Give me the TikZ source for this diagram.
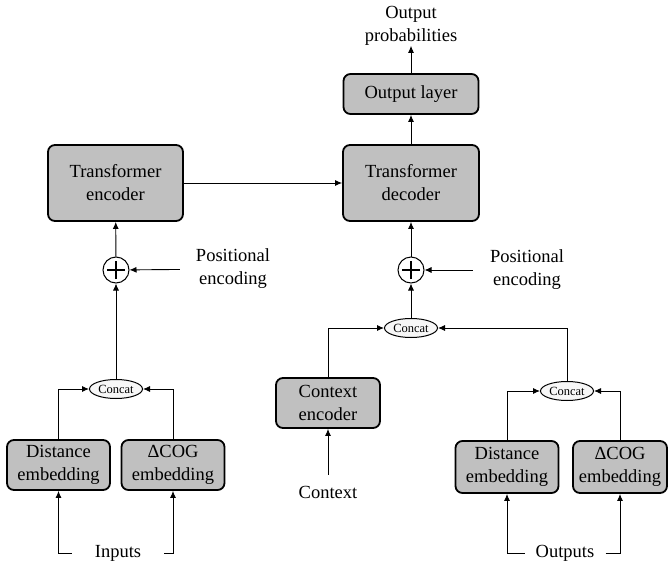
\documentclass[tikz,border=0pt]{standalone}
\usepackage{fontspec}
\setmainfont{Liberation Serif}
\usetikzlibrary{arrows.meta,shapes.geometric}
\definecolor{boxgray}{HTML}{C0C0C0}

\begin{document}
\begin{tikzpicture}[x=1pt,y=-1pt,
    block/.style={draw,line width=1.8pt,rounded corners=7pt,fill=boxgray,
        align=center,inner sep=1pt,font=\fontsize{18.5}{23}\selectfont},
    txt/.style={align=center,inner sep=2pt,font=\fontsize{18.5}{23}\selectfont},
    concat/.style={draw,ellipse,fill=gray!6,line width=1pt,minimum width=53pt,minimum height=19pt,
        inner sep=0pt,font=\fontsize{12.5}{14}\selectfont},
    addop/.style={draw,circle,line width=1pt,minimum size=26pt,inner sep=0pt,
        path picture={
            \draw[line width=1.4pt] ([xshift=-9pt]path picture bounding box.center)
                -- ([xshift=9pt]path picture bounding box.center);
            \draw[line width=1.4pt] ([yshift=-9pt]path picture bounding box.center)
                -- ([yshift=9pt]path picture bounding box.center);}},
    conn/.style={line width=0.9pt,-{Latex[length=7pt,width=6pt]}}]
    \useasboundingbox (0,0) rectangle (669,565);

    % encoder side
    \node[block,minimum width=135pt,minimum height=76pt] (enc) at (115.5,183) {Transformer\\encoder};
    \node[addop] (encadd) at (116,270) {};
    \node[txt,inner xsep=16pt] (encpos) at (233,269) {Positional\\encoding};
    \node[concat] (enccat) at (116,389) {Concat};
    \node[block,minimum width=103pt,minimum height=50pt] (indist) at (58.5,465) {Distance\\embedding};
    \node[block,minimum width=103pt,minimum height=50pt] (incog) at (173,465) {ΔCOG\\embedding};
    \node[txt,inner xsep=23pt] (inputs) at (118,553) {Inputs};

    % decoder side
    \node[block,minimum width=136pt,minimum height=76pt] (dec) at (411,183) {Transformer\\decoder};
    \node[block,minimum width=135pt,minimum height=40pt] (outl) at (411,94) {Output layer};
    \node[txt,inner sep=0pt] (prob) at (411,26) {Output\\probabilities};
    \node[addop] (decadd) at (411,270) {};
    \node[txt,inner xsep=17pt] (decpos) at (527,270) {Positional\\encoding};
    \node[concat] (deccat) at (411,328) {Concat};
    \node[block,minimum width=104pt,minimum height=50pt] (ctxenc) at (328,403) {Context\\encoder};
    \node[txt,inner ysep=11pt] (ctx) at (328,492) {Context};
    \node[concat] (outcat) at (567,391) {Concat};
    \node[block,minimum width=103pt,minimum height=52pt] (outdist) at (507,467) {Distance\\embedding};
    \node[block,minimum width=94pt,minimum height=52pt] (outcog) at (620,467) {ΔCOG\\embedding};
    \node[txt,inner xsep=11pt] (outputs) at (565,553) {Outputs};

    % connectors
    \draw[conn] (inputs.west) -| (indist);
    \draw[conn] (inputs.east) -| (incog);
    \draw[conn] (indist) |- (enccat);
    \draw[conn] (incog) |- (enccat);
    \draw[conn] (enccat) -- (encadd);
    \draw[conn] (encpos) -- (encadd);
    \draw[conn] (encadd) -- (enc);
    \draw[conn] (enc) -- (dec);

    \draw[conn] (outputs.west) -| (outdist);
    \draw[conn] (outputs.east) -| (outcog);
    \draw[conn] (outdist) |- (outcat);
    \draw[conn] (outcog) |- (outcat);
    \draw[conn] (ctx) -- (ctxenc);
    \draw[conn] (ctxenc) |- (deccat);
    \draw[conn] (outcat) |- (deccat);
    \draw[conn] (deccat) -- (decadd);
    \draw[conn] (decpos) -- (decadd);
    \draw[conn] (decadd) -- (dec);
    \draw[conn] (dec) -- (outl);
    \draw[conn] (outl) -- (prob);
\end{tikzpicture}
\end{document}
